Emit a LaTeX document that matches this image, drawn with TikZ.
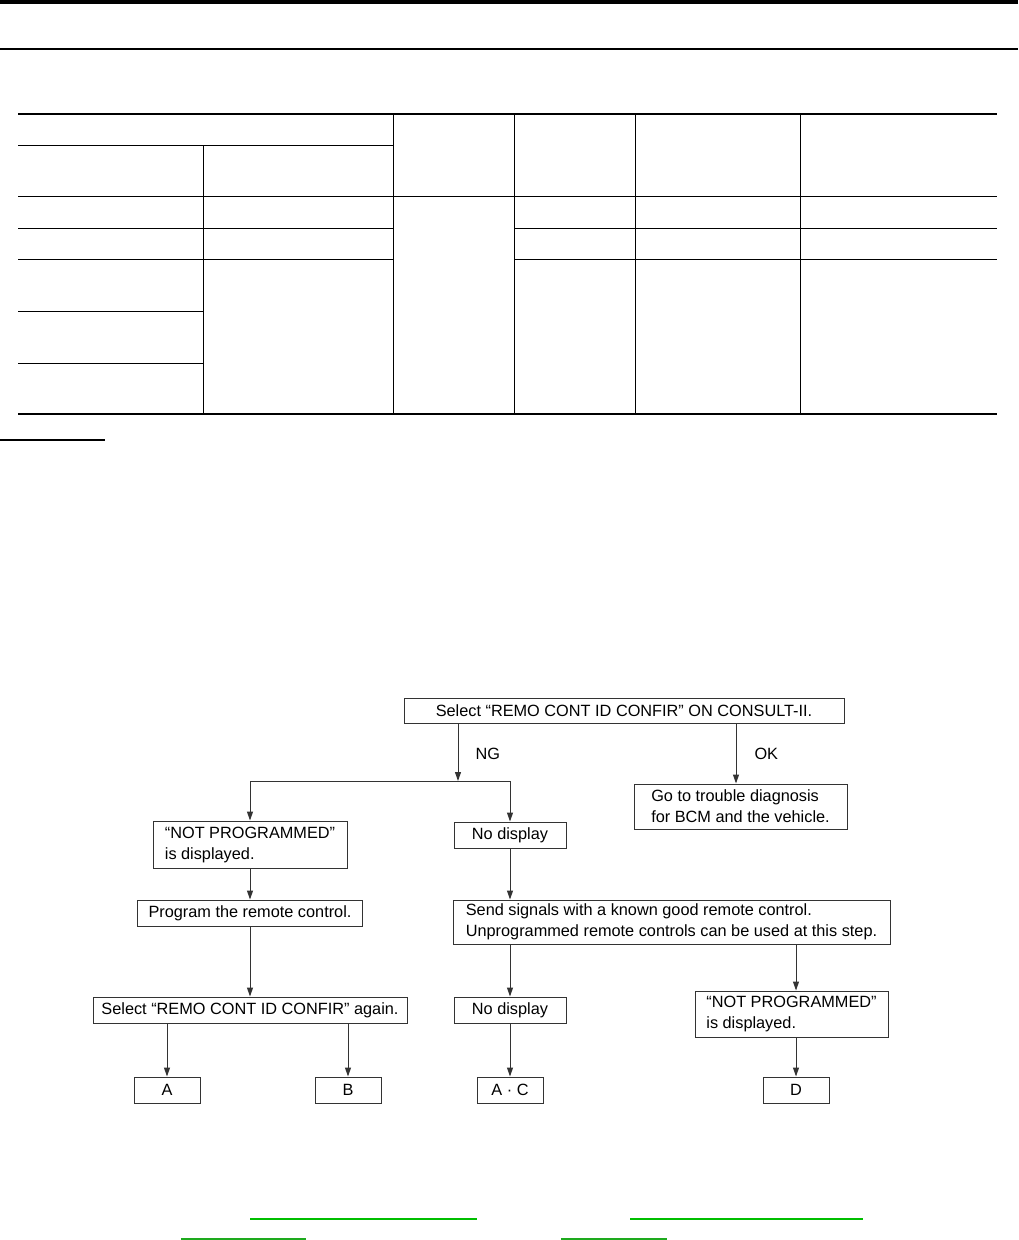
\documentclass[tikz,border=0pt]{standalone}
\usepackage{fontspec}
\setmainfont{Liberation Sans}
\usepackage{xcolor}
\usepackage{tikz}
\usetikzlibrary{arrows.meta,positioning,calc}

\definecolor{linkgreen}{RGB}{0,190,0}
\definecolor{linkdim}{RGB}{30,170,30}

\begin{document}
\begin{tikzpicture}[
  x=1pt, y=-1pt,
  font=\fontsize{16.3}{21}\selectfont,
  blk/.style={draw=black!80, line width=1pt, align=left, inner sep=0pt, minimum height=26pt},
  tag/.style={blk, align=center, minimum width=66pt},
  arr/.style={-{Triangle[length=9pt,width=6pt]}, line width=1pt, draw=black!80},
  rule/.style={line width=1pt},
  link/.style={linkgreen, line width=2pt}
]
\useasboundingbox (0,0) rectangle (1018,1240);

% Page header
\fill (0,0) rectangle (1018,3.5);
\draw[line width=1.3pt] (0,49) -- (1018,49);

% Table grid
\draw[line width=2pt] (18,114) -- (997,114);
\draw[line width=2.8pt] (18,414) -- (997,414);
\foreach \cx in {393,514,635,800} \draw[rule] (\cx,114) -- (\cx,414);
\draw[rule] (203,145) -- (203,414);
\draw[rule] (18,145) -- (393,145);
\draw[rule] (18,196) -- (997,196);
\foreach \ry in {228,259} {
  \draw[rule] (18,\ry) -- (393,\ry);
  \draw[rule] (514,\ry) -- (997,\ry);
}
\foreach \ry in {311,363} \draw[rule] (18,\ry) -- (203,\ry);
\draw[line width=1.3pt] (0,440) -- (105,440);

% Flow chart
\node[blk, align=center, minimum width=440pt, minimum height=25pt] (sel) at (624,710.5) {Select “REMO CONT ID CONFIR” ON CONSULT-II.};
\node[blk, minimum width=213pt, minimum height=45pt] (diag) at (740.5,806.5) {Go to trouble diagnosis\\for BCM and the vehicle.};
\node[blk, minimum width=194pt, minimum height=47pt] (np1) at (250,844.5) {“NOT PROGRAMMED”\\is displayed.};
\node[blk, align=center, minimum width=112pt] (nd1) at (510,835) {No display};
\node[blk, align=center, minimum width=225pt] (prog) at (250,913) {Program the remote control.};
\node[blk, minimum width=437pt, minimum height=44pt] (send) at (671.5,922) {Send signals with a known good remote control.\\Unprogrammed remote controls can be used at this step.};
\node[blk, align=center, minimum width=314pt] (again) at (250,1010) {Select “REMO CONT ID CONFIR” again.};
\node[blk, align=center, minimum width=112pt] (nd2) at (510,1010) {No display};
\node[blk, minimum width=193pt, minimum height=46pt] (np2) at (791.5,1014) {“NOT PROGRAMMED”\\is displayed.};
\node[tag] (a) at (167,1090) {A};
\node[tag] (b) at (348,1090) {B};
\node[tag] (ac) at (510,1090) {A · C};
\node[tag] (d) at (796,1090) {D};

% NG / OK branches
\coordinate (ng) at (458,781);
\coordinate (ok) at (736,781);
\draw[arr] (sel.south -| ng) -- (ng);
\draw[arr] (ng) -| (np1.north);
\draw[arr] (ng) -| (nd1.north);
\draw[arr] (sel.south -| ok) -- (diag.north -| ok);
\node[anchor=west] (nglbl) at (472,754) {NG};
\node[anchor=west] (oklbl) at (751,754) {OK};

\draw[arr] (np1.south) -- (prog.north);
\draw[arr] (prog.south) -- (again.north);
\draw[arr] (nd1.south) -- (nd1.south |- send.north);
\draw[arr] (send.south -| nd2) -- (nd2.north);
\draw[arr] (send.south -| d) -- (np2.north -| d);
\draw[arr] (again.south -| a) -- (a.north);
\draw[arr] (again.south -| b) -- (b.north);
\draw[arr] (nd2.south) -- (ac.north);
\draw[arr] (np2.south -| d) -- (d.north);

% Links
\draw[link] (250,1219) -- (477,1219);
\draw[link] (630,1219) -- (863,1219);
\draw[linkdim, line width=1.3pt] (181,1239) -- (306,1239);
\draw[linkdim, line width=1.3pt] (561,1239) -- (667,1239);
\end{tikzpicture}
\end{document}
